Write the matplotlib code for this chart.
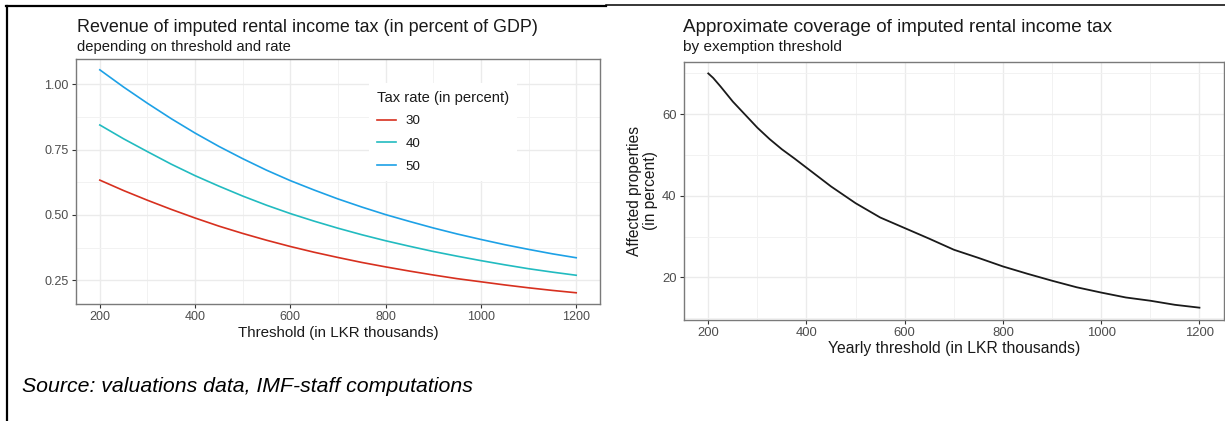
import matplotlib
matplotlib.use("Agg")
import matplotlib.pyplot as plt
from matplotlib.ticker import FixedLocator
from matplotlib.lines import Line2D

plt.rcParams['font.family'] = ['Liberation Sans', 'DejaVu Sans']

# ---------------- data ----------------
threshold = [200, 250, 300, 350, 400, 450, 500, 550, 600, 650, 700,
             750, 800, 850, 900, 950, 1000, 1050, 1100, 1150, 1200]
rev_30 = [0.633, 0.593, 0.556, 0.521, 0.488, 0.457, 0.429, 0.403, 0.379, 0.357, 0.337,
          0.318, 0.301, 0.285, 0.270, 0.256, 0.244, 0.232, 0.221, 0.211, 0.202]
rev_40 = [0.844, 0.791, 0.742, 0.694, 0.650, 0.610, 0.572, 0.537, 0.505, 0.476, 0.449,
          0.424, 0.401, 0.380, 0.360, 0.342, 0.325, 0.309, 0.294, 0.281, 0.269]
rev_50 = [1.055, 0.989, 0.927, 0.868, 0.813, 0.762, 0.715, 0.671, 0.631, 0.595, 0.561,
          0.530, 0.501, 0.475, 0.450, 0.427, 0.406, 0.386, 0.368, 0.351, 0.336]
rate_labels = ['30', '40', '50']

cov_threshold = [200, 210, 225, 250, 275, 300, 325, 350, 375, 400, 450, 500, 550, 600,
                 650, 700, 750, 800, 850, 900, 950, 1000, 1050, 1100, 1150, 1200]
coverage = [70.0, 68.9, 66.8, 63.1, 59.9, 56.7, 53.9, 51.4, 49.2, 46.9, 42.3, 38.2, 34.7, 32.1,
            29.5, 26.8, 24.8, 22.7, 20.9, 19.2, 17.6, 16.3, 15.1, 14.3, 13.3, 12.6]

colors = ['#D7301F', '#22BBC0', '#1DA1E6']

W, H = 1225, 421
fig = plt.figure(figsize=(W / 100, H / 100), dpi=100)

def fx(px):
    return px / W

def fy(py):
    return 1 - py / H

GRID = '#EBEBEB'
BORDER = '#7A7A7A'
TICKC = '#4D4D4D'

def style(ax, lsize):
    for s in ax.spines.values():
        s.set_color(BORDER)
        s.set_linewidth(1.0)
    ax.grid(True, which='major', color=GRID, lw=1.0, zorder=0)
    ax.grid(True, which='minor', color='#F2F2F2', lw=0.7, zorder=0)
    ax.set_axisbelow(True)
    ax.tick_params(which='major', length=3.2, width=0.8, color='#333333',
                   labelsize=lsize, labelcolor=TICKC, pad=2)
    ax.tick_params(which='minor', length=0)

# ---------------- left panel ----------------
axL = fig.add_axes([fx(76), fy(304), fx(600) - fx(76), fy(58.6) - fy(304)])
for vals, c, lab in zip([rev_30, rev_40, rev_50], colors, rate_labels):
    axL.plot(threshold, vals, color=c, lw=1.2, label=lab, zorder=3)
axL.set_xlim(150, 1250)
axL.set_ylim(0.159, 1.098)
axL.xaxis.set_major_locator(FixedLocator([200, 400, 600, 800, 1000, 1200]))
axL.xaxis.set_minor_locator(FixedLocator([300, 500, 700, 900, 1100]))
axL.yaxis.set_major_locator(FixedLocator([0.25, 0.5, 0.75, 1.0]))
axL.yaxis.set_minor_locator(FixedLocator([0.375, 0.625, 0.875]))
axL.set_yticklabels(['0.25', '0.50', '0.75', '1.00'])
style(axL, 9.0)
axL.set_xlabel('Threshold (in LKR thousands)', fontsize=10.9, color='#1a1a1a', labelpad=2)

leg = axL.legend(title='Tax rate (in percent)', loc='upper left',
                 bbox_to_anchor=(fx(362), fy(76)), bbox_transform=fig.transFigure,
                 frameon=True, facecolor='white', edgecolor='none', framealpha=1,
                 fontsize=9.6, title_fontsize=10.6, handlelength=1.45, handletextpad=0.7,
                 labelspacing=0.78, borderpad=0.6, alignment='left', fancybox=False)
leg.get_frame().set_linewidth(0)
leg.get_title().set_color('#1a1a1a')
for t in leg.get_texts():
    t.set_color('#1a1a1a')

fig.text(fx(77), fy(32), 'Revenue of imputed rental income tax (in percent of GDP)',
         fontsize=12.9, va='baseline', ha='left', color='#1a1a1a')
fig.text(fx(77), fy(50.5), 'depending on threshold and rate',
         fontsize=10.6, va='baseline', ha='left', color='#1a1a1a')

# ---------------- right panel ----------------
axR = fig.add_axes([fx(683.7), fy(319.5), fx(1224) - fx(683.7), fy(61.6) - fy(319.5)])
axR.plot(cov_threshold, coverage, color='#1a1a1a', lw=1.3, zorder=3)
axR.set_xlim(150, 1250)
axR.set_ylim(9.7, 72.9)
axR.xaxis.set_major_locator(FixedLocator([200, 400, 600, 800, 1000, 1200]))
axR.xaxis.set_minor_locator(FixedLocator([300, 500, 700, 900, 1100]))
axR.yaxis.set_major_locator(FixedLocator([20, 40, 60]))
axR.yaxis.set_minor_locator(FixedLocator([10, 30, 50, 70]))
style(axR, 9.4)
axR.set_xlabel('Yearly threshold (in LKR thousands)', fontsize=11.3, color='#1a1a1a', labelpad=2)
axR.set_ylabel('Affected properties\n(in percent)', fontsize=11.2, color='#1a1a1a',
               labelpad=3, linespacing=1.05)

fig.text(fx(683), fy(32), 'Approximate coverage of imputed rental income tax',
         fontsize=13.6, va='baseline', ha='left', color='#1a1a1a')
fig.text(fx(683), fy(51.5), 'by exemption threshold',
         fontsize=11.1, va='baseline', ha='left', color='#1a1a1a')

# ---------------- source + frame lines ----------------
fig.text(fx(22), fy(392), 'Source: valuations data, IMF-staff computations',
         fontsize=15.3, style='italic', va='baseline', ha='left', color='black')

fig.add_artist(Line2D([fx(7), fx(7)], [fy(6), fy(421)], color='black', lw=1.6,
                      transform=fig.transFigure))
fig.add_artist(Line2D([fx(6), fx(606)], [fy(6), fy(6)], color='black', lw=1.6,
                      transform=fig.transFigure))
fig.add_artist(Line2D([fx(606), fx(1225)], [fy(5), fy(5)], color='black', lw=1.1,
                      transform=fig.transFigure))

fig.savefig('out.png', dpi=100)
